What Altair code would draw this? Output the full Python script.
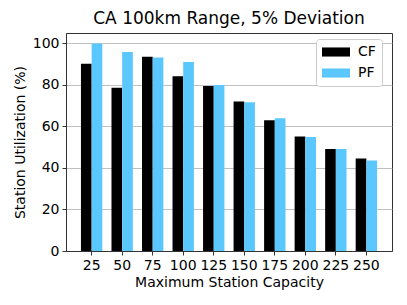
import altair as alt
import pandas as pd

capacities = ["25", "50", "75", "100", "125", "150", "175", "200", "225", "250"]
cf_values = [90.2, 78.6, 93.6, 84.2, 79.5, 72.0, 63.0, 55.1, 49.1, 44.6]
pf_values = [100.0, 95.8, 93.2, 91.0, 79.9, 71.7, 63.9, 54.9, 49.1, 43.6]
series_names = ["CF", "PF"]
series_colors = ["#000000", "#5AC8FF"]

rows = []
for c, a, b in zip(capacities, cf_values, pf_values):
    rows.append({"capacity": c, "series": "CF", "value": a})
    rows.append({"capacity": c, "series": "PF", "value": b})
df = pd.DataFrame(rows)

font = "DejaVu Sans"

chart = (
    alt.Chart(df)
    .mark_bar()
    .encode(
        x=alt.X(
            "capacity:N",
            sort=capacities,
            scale=alt.Scale(paddingInner=0.3, paddingOuter=0.49),
            axis=alt.Axis(
                title="Maximum Station Capacity",
                labelAngle=0,
                grid=False,
                tickSize=4,
                labelPadding=3,
                titlePadding=3,
            ),
        ),
        xOffset=alt.XOffset("series:N", sort=series_names),
        y=alt.Y(
            "value:Q",
            scale=alt.Scale(domain=[0, 105], nice=False),
            axis=alt.Axis(
                title="Station Utilization (%)",
                values=[0, 20, 40, 60, 80, 100],
                grid=True,
                tickSize=4,
                labelPadding=3,
                titlePadding=5,
            ),
        ),
        color=alt.Color(
            "series:N",
            sort=series_names,
            scale=alt.Scale(domain=series_names, range=series_colors),
            legend=alt.Legend(
                title=None,
                orient="none",
                legendX=250,
                legendY=6,
                symbolType="M-2,-0.65L2,-0.65L2,0.65L-2,0.65Z",
                symbolSize=196,
                symbolOffset=7,
                symbolStrokeWidth=0,
                labelOffset=15,
                labelFontSize=14,
                labelFont=font,
                labelColor="#000000",
                rowPadding=7,
                padding=6,
                fillColor="white",
                strokeColor="#cccccc",
                cornerRadius=3,
            ),
        ),
    )
    .properties(
        width=326,
        height=218,
        title=alt.TitleParams(
            "CA 100km Range, 5% Deviation",
            fontSize=17,
            font=font,
            fontWeight="normal",
            color="#000000",
            offset=5,
        ),
        autosize=alt.AutoSizeParams(type="none"),
        padding={"left": 58, "top": 25, "right": 7, "bottom": 46},
    )
    .configure_view(stroke="#333333", strokeWidth=1)
    .configure_axis(
        labelFont=font,
        titleFont=font,
        labelFontSize=14,
        titleFontSize=14,
        titleFontWeight="normal",
        labelColor="#000000",
        titleColor="#000000",
        domainColor="#333333",
        tickColor="#333333",
        gridColor="#b0b0b0",
        gridWidth=0.8,
    )
)

chart.save("out.html", embed_options={"renderer": "svg", "actions": False})
